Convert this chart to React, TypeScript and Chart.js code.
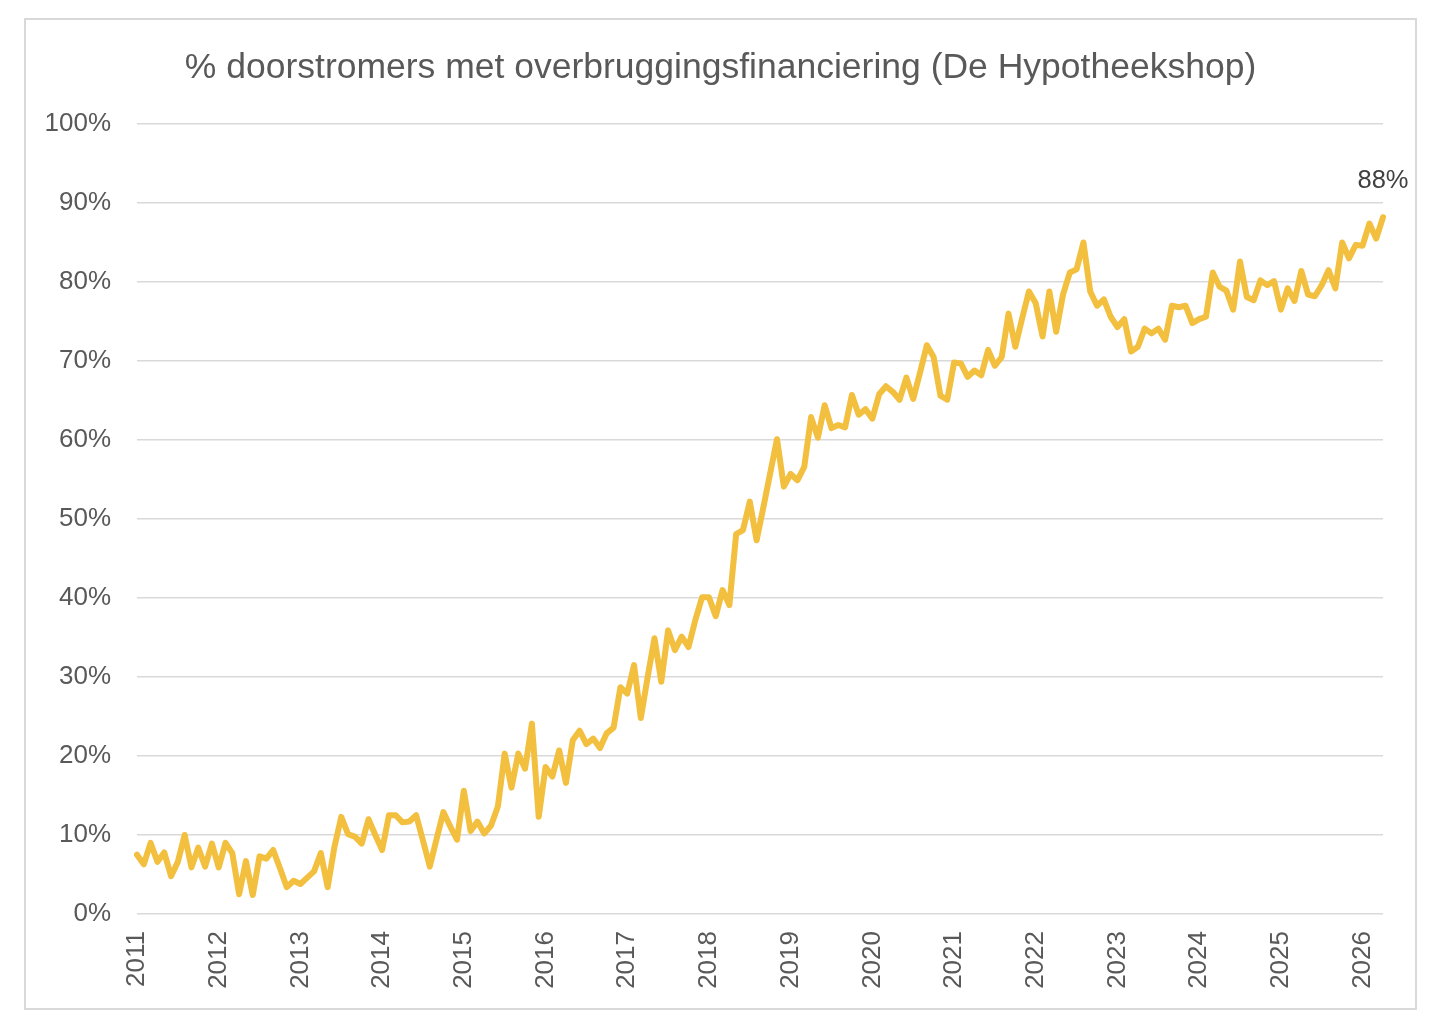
import { useEffect, useRef } from 'react';
import { Chart, registerables } from 'chart.js';

Chart.register(...registerables);

const TITLE = '% doorstromers met overbruggingsfinanciering (De Hypotheekshop)';
const START_YEAR = 2011;

// Monthly share (%) of movers with bridge financing, Jan 2011 – Apr 2026
const SHARE: number[] = [
  // 2011
  7.5, 6.3, 9.0, 6.6, 7.8, 4.8, 6.6, 10.0, 5.9, 8.4, 6.0, 8.9,
  // 2012
  5.9, 9.0, 7.7, 2.5, 6.7, 2.4, 7.3, 7.0, 8.1, 5.8, 3.4, 4.2,
  // 2013
  3.8, 4.6, 5.4, 7.7, 3.4, 8.5, 12.3, 10.1, 9.8, 8.9, 12.0, 10.0,
  // 2014
  8.1, 12.5, 12.5, 11.6, 11.7, 12.5, 9.3, 6.0, 9.5, 12.9, 11.1, 9.4,
  // 2015
  15.6, 10.5, 11.7, 10.2, 11.2, 13.6, 20.3, 16.0, 20.3, 18.4, 24.1, 12.3,
  // 2016
  18.6, 17.4, 20.7, 16.6, 22.0, 23.2, 21.5, 22.2, 21.0, 22.9, 23.6, 28.7,
  // 2017
  27.9, 31.5, 24.8, 30.0, 34.9, 29.4, 35.9, 33.4, 35.1, 33.8, 37.2, 40.1,
  // 2018
  40.1, 37.7, 41.0, 39.1, 48.1, 48.6, 52.2, 47.3, 51.5, 55.8, 60.1, 54.1,
  // 2019
  55.7, 54.9, 56.6, 62.9, 60.3, 64.4, 61.5, 61.9, 61.6, 65.7, 63.2, 63.9,
  // 2020
  62.7, 65.8, 66.8, 66.1, 65.1, 67.9, 65.2, 68.5, 72.0, 70.5, 65.6, 65.1,
  // 2021
  69.8, 69.7, 68.0, 68.8, 68.2, 71.4, 69.4, 70.5, 76.0, 71.8, 75.4, 78.8,
  // 2022
  77.3, 73.1, 78.8, 73.7, 78.4, 81.2, 81.6, 85.0, 78.8, 77.0, 77.8, 75.6,
  // 2023
  74.3, 75.3, 71.2, 71.8, 74.1, 73.5, 74.1, 72.7, 77.0, 76.8, 77.0, 74.8,
  // 2024
  75.3, 75.6, 81.2, 79.4, 78.9, 76.5, 82.6, 78.1, 77.7, 80.2, 79.6, 80.1,
  // 2025
  76.5, 79.2, 77.6, 81.4, 78.4, 78.2, 79.6, 81.5, 79.2, 85.0, 83.0, 84.7,
  // 2026
  84.6, 87.4, 85.5, 88.2,
];

const MONTH_LABELS: string[] = SHARE.map(
  (_, i) => `${START_YEAR + Math.floor(i / 12)}-${String((i % 12) + 1).padStart(2, '0')}`
);

const Y_MIN = 0;
const Y_MAX = 100;
const Y_STEP = 10;

const FONT = '"Liberation Sans", Arial, Helvetica, sans-serif';
const TEXT_GRAY = '#595959';
const GRID_GRAY = '#d9d9d9';
const LINE_COLOR = '#F2BF3F';

const lastLabelPlugin = {
  id: 'lastLabel',
  afterDatasetsDraw(chart: any) {
    const meta = chart.getDatasetMeta(0);
    const n = meta.data.length;
    if (!n) return;
    const pt = meta.data[n - 1];
    const v = chart.data.datasets[0].data[n - 1] as number;
    const ctx = chart.ctx;
    ctx.save();
    ctx.font = `25.5px ${FONT}`;
    ctx.fillStyle = '#404040';
    ctx.textAlign = 'center';
    ctx.textBaseline = 'middle';
    ctx.fillText(`${Math.round(v)}%`, pt.x, pt.y - 36);
    ctx.restore();
  },
};

export default function App() {
  const ref = useRef<HTMLCanvasElement | null>(null);

  useEffect(() => {
    if (!ref.current) return;
    const chart = new Chart(ref.current, {
      type: 'line',
      data: {
        labels: MONTH_LABELS,
        datasets: [
          {
            data: SHARE,
            borderColor: LINE_COLOR,
            backgroundColor: LINE_COLOR,
            borderWidth: 6,
            pointRadius: 0,
            pointHoverRadius: 0,
            tension: 0,
            fill: false,
            borderJoinStyle: 'round',
            borderCapStyle: 'round',
          },
        ],
      },
      options: {
        animation: false,
        responsive: false,
        maintainAspectRatio: false,
        layout: { padding: 0 },
        plugins: {
          legend: { display: false },
          tooltip: { enabled: false },
          title: {
            display: true,
            text: TITLE,
            color: TEXT_GRAY,
            font: { family: FONT, size: 35.5, weight: 'normal', lineHeight: 1.2 },
            padding: { top: 26.7, bottom: 34.7 },
          },
        },
        scales: {
          x: {
            type: 'category',
            grid: { display: false, drawTicks: false },
            border: { display: false },
            ticks: {
              autoSkip: false,
              minRotation: 90,
              maxRotation: 90,
              padding: 17,
              color: TEXT_GRAY,
              font: { family: FONT, size: 26 },
              callback: (_v: any, i: number) =>
                i % 12 === 0 ? String(START_YEAR + i / 12) : '',
            },
            afterFit: (s: any) => {
              s.height = 94;
              s.paddingLeft = 0;
              s.paddingRight = 32;
            },
          },
          y: {
            min: Y_MIN,
            max: Y_MAX,
            grid: { color: GRID_GRAY, lineWidth: 1.5, drawTicks: false },
            border: { display: false },
            ticks: {
              stepSize: Y_STEP,
              padding: 26,
              color: TEXT_GRAY,
              font: { family: FONT, size: 26 },
              callback: (v: any) => `${v}%`,
            },
            afterFit: (s: any) => {
              s.width = 111;
              s.paddingTop = 0;
              s.paddingBottom = 0;
            },
          },
        },
      },
      plugins: [lastLabelPlugin],
    } as any);
    return () => chart.destroy();
  }, []);

  return (
    <div
      style={{
        position: 'absolute',
        left: 24,
        top: 18,
        width: 1393,
        height: 992,
        border: '2px solid #d9d9d9',
        boxSizing: 'border-box',
        background: '#fff',
      }}
    >
      <canvas ref={ref} width={1389} height={988} style={{ display: 'block' }} />
    </div>
  );
}
